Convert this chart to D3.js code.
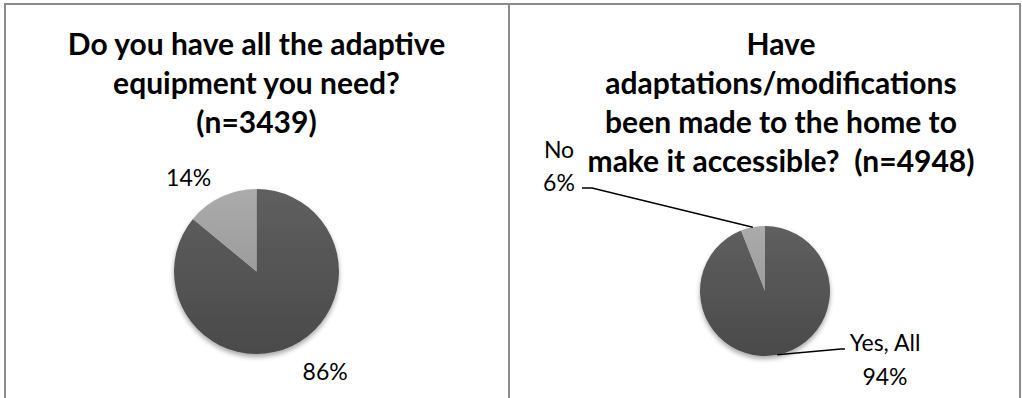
<!DOCTYPE html>
<html>
<head>
<meta charset="utf-8">
<script src="https://cdn.jsdelivr.net/npm/d3@7"></script>
<style>
  html, body { margin: 0; padding: 0; background: #fff; }
  svg { display: block; }
  text { font-family: Lato, "Open Sans", sans-serif; fill: #000; white-space: pre; }
</style>
</head>
<body>
<svg id="chart" width="1022" height="398"></svg>
<script>
// Survey answers, one small pie per question
const equipmentCategories = ["Yes", "No"];
const equipmentValues = [86, 14];
const equipmentLabels = ["86%", "14%"];
const equipmentTitle = ["Do you have all the adaptive", "equipment you need?", "(n=3439)"];

const homeCategories = ["Yes, All", "No"];
const homeValues = [94, 6];
const homeLabels = ["94%", "6%"];
const homeTitle = ["Have", "adaptations/modifications", "been made to the home to", "make it accessible?  (n=4948)"];

const svg = d3.select("#chart");
const W = 1022, H = 398;
const labelSize = "23px";

// gradients and shadow shared by both pies
const defs = svg.append("defs");
function grad(id, top, bottom) {
  const g = defs.append("linearGradient").attr("id", id)
    .attr("x1", 0).attr("y1", 0).attr("x2", 0).attr("y2", 1);
  g.append("stop").attr("offset", "0%").attr("stop-color", top);
  g.append("stop").attr("offset", "100%").attr("stop-color", bottom);
}
grad("gDark", "#5f5f5f", "#4a4a4a");
grad("gLight", "#ababab", "#9c9c9c");
const f = defs.append("filter").attr("id", "shadow")
  .attr("x", "-20%").attr("y", "-20%").attr("width", "140%").attr("height", "150%");
f.append("feGaussianBlur").attr("in", "SourceAlpha").attr("stdDeviation", 2.5).attr("result", "b");
f.append("feOffset").attr("in", "b").attr("dy", 2.5).attr("result", "o");
f.append("feComponentTransfer").attr("in", "o").attr("result", "s")
  .append("feFuncA").attr("type", "linear").attr("slope", 0.35);
const fm = f.append("feMerge");
fm.append("feMergeNode").attr("in", "s");
fm.append("feMergeNode").attr("in", "SourceGraphic");

// frame around the two panels
const frame = svg.append("g").attr("stroke", "#8c8c8c").attr("stroke-width", 2).attr("fill", "none");
frame.append("path").attr("d", d3.line()([[5, H], [5, 4], [1020, 4], [1020, H]]));
frame.append("line").attr("x1", 509).attr("x2", 509).attr("y1", 4).attr("y2", H);

const fills = ["url(#gDark)", "url(#gLight)"];
const pie = d3.pie().sort(null).value(d => d);

function title(lines, cx, y0) {
  const t = svg.append("text").attr("text-anchor", "middle")
    .style("font-weight", 700).style("font-size", "30px");
  lines.forEach((s, i) => t.append("tspan").attr("x", cx).attr("y", y0 + i * 39).text(s));
}

function drawPie(values, cx, cy, r) {
  const arcs = pie(values);
  const arc = d3.arc().innerRadius(0).outerRadius(r);
  const g = svg.append("g").attr("transform", `translate(${cx},${cy})`);
  g.append("g").attr("filter", "url(#shadow)")
    .selectAll("path").data(arcs).join("path")
    .attr("d", arc).attr("fill", (d, i) => fills[i]);
  return { g, arcs, r };
}

// point on a circle of radius rr at the middle angle of a slice
function mid(d, rr) {
  const a = (d.startAngle + d.endAngle) / 2;
  return [Math.sin(a) * rr, -Math.cos(a) * rr];
}

// ---- left pie: adaptive equipment ----
title(equipmentTitle, 256.5, 55);
const p1 = drawPie(equipmentValues, 256.5, 271.5, 82.5);
[[0, 1.47, 17, -9], [1, 1.42, -18, 12]].forEach(([i, k, dx, dy]) => {
  const [x, y] = mid(p1.arcs[i], p1.r * k);
  p1.g.append("text").attr("x", x + dx).attr("y", y + dy).attr("dy", "0.35em")
    .attr("text-anchor", "middle").style("font-size", labelSize).text(equipmentLabels[i]);
});

// ---- right pie: home modifications ----
title(homeTitle, 781, 55);
const p2 = drawPie(homeValues, 765, 291, 65);
const leader = d3.line();

// "No" label, up and to the left
{
  const [ax, ay] = mid(p2.arcs[1], p2.r);
  const lx = -183, ly = -103;
  p2.g.append("path").attr("d", leader([[ax, ay], [lx + 10, ly], [lx, ly]]))
    .attr("fill", "none").attr("stroke", "#000").attr("stroke-width", 1.5);
  const t = p2.g.append("text").attr("text-anchor", "middle").style("font-size", labelSize);
  t.append("tspan").attr("x", lx - 23).attr("y", ly - 38).attr("dy", "0.35em").text(homeCategories[1]);
  t.append("tspan").attr("x", lx - 23).attr("y", ly - 5).attr("dy", "0.35em").text(homeLabels[1]);
}

// "Yes, All" label, below right
{
  const [ax, ay] = mid(p2.arcs[0], p2.r);
  const lx = 80, ly = 58;
  p2.g.append("path").attr("d", leader([[ax, ay], [lx - 4, ly], [lx, ly]]))
    .attr("fill", "none").attr("stroke", "#000").attr("stroke-width", 1.5);
  const t = p2.g.append("text").attr("text-anchor", "middle").style("font-size", labelSize);
  t.append("tspan").attr("x", lx + 40).attr("y", ly - 6).attr("dy", "0.35em").text(homeCategories[0]);
  t.append("tspan").attr("x", lx + 40).attr("y", ly + 28).attr("dy", "0.35em").text(homeLabels[0]);
}
</script>
</body>
</html>
